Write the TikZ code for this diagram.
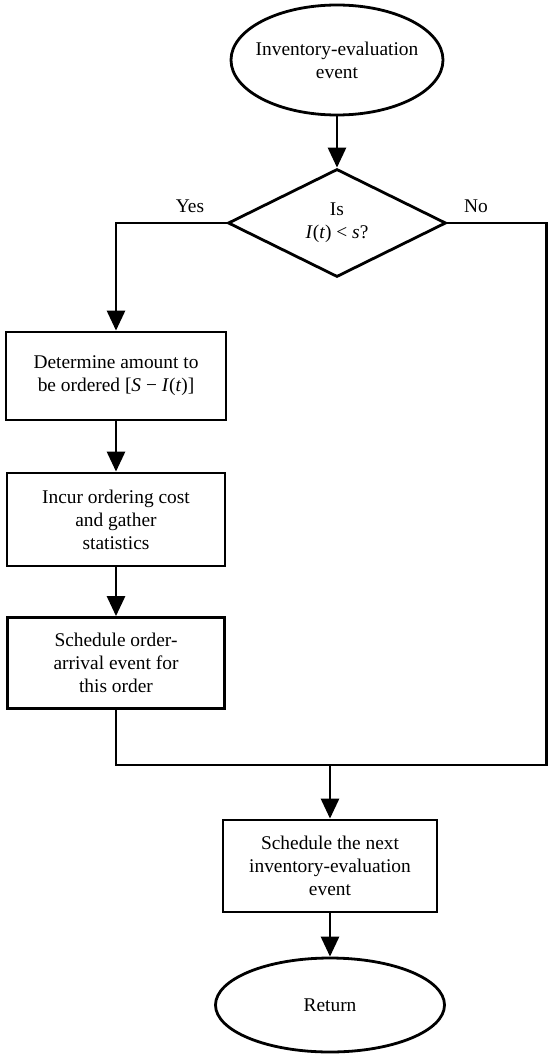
\documentclass[tikz,border=0pt]{standalone}
\usepackage{fontspec}
\setmainfont{Liberation Serif}
\usetikzlibrary{shapes.geometric,arrows.meta}
\begin{document}
\begin{tikzpicture}[x=1pt,y=1pt,
  every node/.style={font=\fontsize{19.4}{23}\selectfont, align=center},
  proc/.style={draw, line width=2.8pt, rectangle, inner sep=0pt},
  term/.style={draw, line width=2.8pt, ellipse, inner sep=0pt},
  decide/.style={draw, line width=2.8pt, diamond, aspect=2, inner sep=0pt,
                 minimum width=218pt, minimum height=108pt},
  link/.style={line width=2.8pt},
  arr/.style={link, -{Triangle[width=18pt,length=20pt]}},
  lbl/.style={inner sep=0pt},
]
\useasboundingbox (0,0) rectangle (548,-1054);

% nodes
\node[term, inner xsep=-7pt, minimum width=212pt, minimum height=110pt]
  (start) at (337,-60) {Inventory-evaluation\\event};
\node[decide] (test) at (337,-223) {Is\\\textit{I}(\textit{t}) < \textit{s}?};
\node[proc, minimum width=220pt, minimum height=88pt]
  (amount) at (116,-376) {Determine amount to\\be ordered [\textit{S} − \textit{I}(\textit{t})]};
\node[proc, minimum width=218pt, minimum height=93pt]
  (cost) at (116,-519.5) {Incur ordering cost\\and gather\\statistics};
\node[proc, minimum width=217pt, minimum height=91pt]
  (order) at (116,-663) {Schedule order-\\arrival event for\\this order};
\node[proc, minimum width=214pt, minimum height=92pt]
  (next) at (330,-866) {Schedule the next\\inventory-evaluation\\event};
\node[term, minimum width=229pt, minimum height=94pt]
  (ret) at (330,-1005) {Return};

% branch labels
\node[lbl] (yes) at (190,-206) {Yes};
\node[lbl] (no) at (476,-206) {No};

% junction points
\coordinate (corner) at (546.3,-765);
\coordinate (join) at (330,-765);

% connectors
\draw[arr] (start) -- (test);
\draw[arr] (test.west) -| (amount.north);
\draw[arr] (amount) -- (cost);
\draw[arr] (cost) -- (order);
\draw[link] (test.east) -| (corner) -- (corner -| order.south) -- (order.south);
\draw[arr] (join) -- (next.north);
\draw[arr] (next) -- (ret);
\end{tikzpicture}
\end{document}
